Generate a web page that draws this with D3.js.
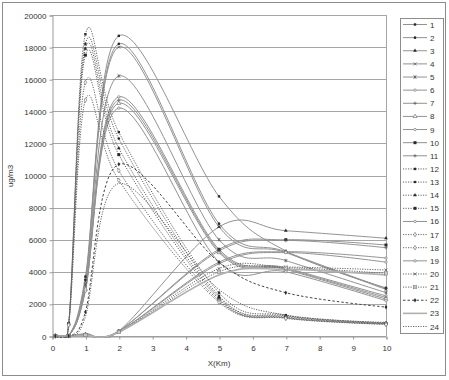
<!doctype html>
<html lang="en">
<head>
<meta charset="utf-8">
<title>ug/m3 vs X(Km)</title>
<script src="https://d3js.org/d3.v7.min.js"></script>
<style>
    body { margin: 0; background: white; }
    svg { display: block; font-family: "Liberation Sans", Arial, sans-serif; }
</style>
</head>
<body>
<svg id="svg" width="449" height="380"></svg>
<script>
// distances (Km) where the values were taken
const xKm = [0.1, 0.5, 1, 2, 5, 7, 10];

// one array per series, same order as xKm
const s1  = [0, 0, 3700, 18700, 8700, 5300, 3000];
const s2  = [0, 0, 3500, 18200, 7000, 5250, 2950];
const s3  = [0, 0, 100, 300, 6800, 6560, 6090];
const s4  = [0, 0, 3400, 18000, 6800, 5200, 2900];
const s5  = [0, 0, 3200, 16200, 6000, 4700, 2700];
const s6  = [0, 0, 3000, 14900, 5400, 4250, 2500];
const s7  = [0, 0, 2900, 14700, 5300, 4200, 2400];
const s8  = [0, 0, 2900, 14500, 5200, 4150, 2300];
const s9  = [0, 0, 2800, 14200, 4600, 4000, 2200];
const s10 = [0, 0, 100, 300, 5400, 6000, 5670];
const s11 = [0, 0, 150, 320, 5300, 5950, 5500];
const s12 = [0, 800, 18800, 12700, 2700, 1300, 820];
const s13 = [0, 780, 18200, 12300, 2500, 1250, 800];
const s14 = [0, 760, 17900, 11700, 2400, 1200, 780];
const s15 = [0, 740, 17500, 11300, 2300, 1150, 760];
const s16 = [0, 0, 80, 280, 4600, 5250, 4860];
const s17 = [0, 700, 15800, 10300, 2200, 1120, 740];
const s18 = [0, 680, 14700, 9700, 2100, 1100, 720];
const s19 = [0, 0, 80, 280, 4500, 5200, 4600];
const s20 = [0, 0, 60, 250, 4200, 4300, 4110];
const s21 = [0, 0, 60, 250, 4000, 4250, 3900];
const s22 = [0, 0, 1500, 10700, 4600, 2700, 1800];
const s23 = [0, 0, 50, 240, 3800, 4150, 3800];
const s24 = [0, 0, 1200, 9500, 2900, 1300, 850];

const seriesNames = ["1", "2", "3", "4", "5", "6", "7", "8", "9", "10", "11", "12",
    "13", "14", "15", "16", "17", "18", "19", "20", "21", "22", "23", "24"];
const seriesValues = [s1, s2, s3, s4, s5, s6, s7, s8, s9, s10, s11, s12,
    s13, s14, s15, s16, s17, s18, s19, s20, s21, s22, s23, s24];

const yTicks = [0, 2000, 4000, 6000, 8000, 10000, 12000, 14000, 16000, 18000, 20000];
const xTicks = [0, 1, 2, 3, 4, 5, 6, 7, 8, 9, 10];

// look of each series (Excel default black & white styles)
const markerType = ["sq", "dot", "tri", "times", "ast", "ocirc", "plus", "otri", "ocirc", "bigsq", "plus",
    "sq", "dot", "tri", "bigsq", "ocirc", "odia", "odia", "ocirc", "times", "sqx", "dia", "none", "none"];
const lineType = ["solid", "solid", "solid", "solid", "solid", "solid", "solid", "solid", "solid", "solid", "solid",
    "dot", "dot", "dot", "dot", "solid", "dot", "dot", "solid", "dot", "dot", "dash", "thick", "dot"];

const lineStyle = {
    solid: { stroke: "#929292", width: 1, dash: null },
    dot: { stroke: "#666", width: 1, dash: "1.2,1.3" },
    dash: { stroke: "#444", width: 1, dash: "2.5,2" },
    thick: { stroke: "#b0b0b0", width: 1.6, dash: null }
};

const plot = { left: 52, right: 386, top: 15, bottom: 336 };

const svg = d3.select("#svg");

// outer chart frame
svg.append("rect")
    .attr("x", 2.5).attr("y", 2.5)
    .attr("width", 443).attr("height", 373)
    .attr("fill", "white")
    .attr("stroke", "#8c8c8c");

const xScale = d3.scaleLinear().domain([0, 10]).range([plot.left, plot.right]);
const yScale = d3.scaleLinear().domain([0, 20000]).range([plot.bottom, plot.top]);

// horizontal gridlines
svg.append("g")
    .selectAll("line")
    .data(yTicks)
    .join("line")
    .attr("x1", plot.left).attr("x2", plot.right)
    .attr("y1", d => Math.round(yScale(d)) + 0.5)
    .attr("y2", d => Math.round(yScale(d)) + 0.5)
    .attr("stroke", "#a6a6a6");

// plot area right edge
svg.append("line")
    .attr("x1", plot.right + 0.5).attr("x2", plot.right + 0.5)
    .attr("y1", plot.top).attr("y2", plot.bottom)
    .attr("stroke", "#a6a6a6");

// axes
const yAxis = svg.append("g")
    .attr("transform", `translate(${plot.left + 0.5},0.5)`)
    .call(d3.axisLeft(yScale).tickValues(yTicks).tickSize(3).tickPadding(3).tickFormat(d3.format("d")));
const xAxis = svg.append("g")
    .attr("transform", `translate(0.5,${plot.bottom + 0.5})`)
    .call(d3.axisBottom(xScale).tickValues(xTicks).tickSize(3).tickPadding(6).tickFormat(d3.format("d")));

[xAxis, yAxis].forEach(a => {
    a.select(".domain").attr("stroke", "#999");
    a.selectAll(".tick line").attr("stroke", "#999");
    a.selectAll(".tick text").attr("fill", "#333").attr("font-size", 8)
        .attr("font-family", "Liberation Sans, Arial, sans-serif");
});

// axis titles
svg.append("text")
    .attr("transform", "translate(13,176) rotate(-90)")
    .attr("text-anchor", "middle")
    .attr("font-size", 8)
    .attr("fill", "#333")
    .text("ug/m3");

svg.append("text")
    .attr("x", 219).attr("y", 366)
    .attr("text-anchor", "middle")
    .attr("font-size", 8)
    .attr("fill", "#333")
    .text("X(Km)");

// series lines
svg.append("clipPath").attr("id", "clip")
    .append("rect")
    .attr("x", plot.left).attr("y", plot.top - 8)
    .attr("width", plot.right - plot.left).attr("height", plot.bottom - plot.top + 10);

const line = d3.line()
    .x(d => xScale(d[0]))
    .y(d => yScale(d[1]))
    .curve(d3.curveCardinal.tension(0));

const seriesG = svg.append("g").attr("clip-path", "url(#clip)");
const markerG = svg.append("g");

function drawMarker(g, type, x, y) {
    const c = "#2a2a2a";
    if (type === "none") return;
    const m = g.append("g").attr("transform", `translate(${x},${y})`);
    if (type === "sq") m.append("rect").attr("x", -1.2).attr("y", -1.2).attr("width", 2.4).attr("height", 2.4).attr("fill", c);
    else if (type === "bigsq") m.append("rect").attr("x", -1.5).attr("y", -1.5).attr("width", 3).attr("height", 3).attr("fill", c);
    else if (type === "dot") m.append("circle").attr("r", 1.3).attr("fill", c);
    else if (type === "tri") m.append("path").attr("d", d3.symbol(d3.symbolTriangle, 6)()).attr("fill", c);
    else if (type === "dia") m.append("path").attr("d", d3.symbol(d3.symbolDiamond, 6)()).attr("fill", c);
    else if (type === "otri") m.append("path").attr("d", d3.symbol(d3.symbolTriangle, 7)()).attr("fill", "white").attr("stroke", "#777").attr("stroke-width", 0.7);
    else if (type === "odia") m.append("path").attr("d", d3.symbol(d3.symbolDiamond, 6)()).attr("fill", "white").attr("stroke", "#777").attr("stroke-width", 0.7);
    else if (type === "ocirc") m.append("circle").attr("r", 1.2).attr("fill", "white").attr("stroke", "#777").attr("stroke-width", 0.7);
    else if (type === "times") m.append("path").attr("d", "M-1.5,-1.5L1.5,1.5M-1.5,1.5L1.5,-1.5").attr("stroke", "#555").attr("stroke-width", 0.7);
    else if (type === "plus") m.append("path").attr("d", "M0,-1.7V1.7M-1.7,0H1.7").attr("stroke", "#555").attr("stroke-width", 0.7);
    else if (type === "ast") m.append("path").attr("d", "M-1.5,-1.5L1.5,1.5M-1.5,1.5L1.5,-1.5M0,-1.8V1.8").attr("stroke", "#555").attr("stroke-width", 0.7);
    else if (type === "sqx") {
        m.append("rect").attr("x", -1.6).attr("y", -1.6).attr("width", 3.2).attr("height", 3.2).attr("fill", "white").attr("stroke", "#777").attr("stroke-width", 0.6);
        m.append("path").attr("d", "M-1.6,-1.6L1.6,1.6M-1.6,1.6L1.6,-1.6").attr("stroke", "#777").attr("stroke-width", 0.5);
    }
}

seriesValues.forEach((vals, i) => {
    const pts = xKm.map((x, j) => [x, vals[j]]);
    const st = lineStyle[lineType[i]];
    seriesG.append("path")
        .datum(pts)
        .attr("d", line)
        .attr("fill", "none")
        .attr("stroke", st.stroke)
        .attr("stroke-width", st.width)
        .attr("stroke-dasharray", st.dash);
    pts.forEach(p => drawMarker(markerG, markerType[i], xScale(p[0]), yScale(p[1])));
});

// legend
const legend = svg.append("g");
legend.append("rect")
    .attr("x", 400.5).attr("y", 18.5)
    .attr("width", 43).attr("height", 315)
    .attr("fill", "white")
    .attr("stroke", "#8c8c8c");

const legendY = d3.scaleLinear().domain([0, 23]).range([24.5, 326.5]);

seriesNames.forEach((name, i) => {
    const y = legendY(i);
    const st = lineStyle[lineType[i]];
    legend.append("line")
        .attr("x1", 403).attr("x2", 427)
        .attr("y1", y).attr("y2", y)
        .attr("stroke", st.stroke)
        .attr("stroke-width", st.width)
        .attr("stroke-dasharray", st.dash);
    drawMarker(legend, markerType[i], 415, y);
    legend.append("text")
        .attr("x", 430).attr("y", y + 3)
        .attr("font-size", 8)
        .attr("fill", "#333")
        .text(name);
});
</script>
</body>
</html>
